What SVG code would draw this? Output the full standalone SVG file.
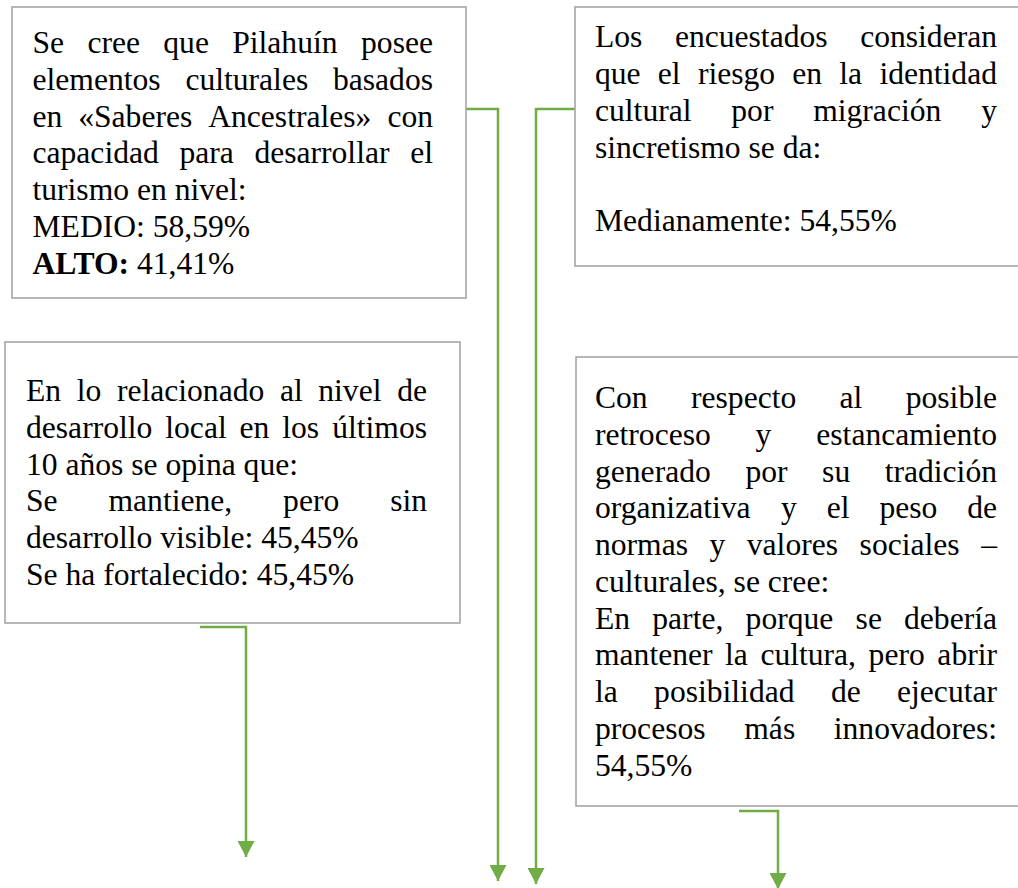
<svg xmlns="http://www.w3.org/2000/svg" width="1018" height="888" viewBox="0 0 1018 888" font-family="'Liberation Serif', 'Times New Roman', Tinos, serif">
<style>
.box{fill:#fff;stroke:#a6a6a6;stroke-width:1.6}
text{font-family:'Liberation Serif','Times New Roman',Tinos,serif;font-size:31.6px;fill:#000}
.e{text-anchor:end}
.b{font-weight:bold}
.c{fill:none;stroke:#70ad47;stroke-width:2.5}
</style>
<defs>
<marker id="ah" markerUnits="userSpaceOnUse" markerWidth="16" markerHeight="17" refX="15" refY="8" orient="auto" viewBox="0 0 15 16">
<path d="M0,0 L15,8 L0,16 Z" fill="#70ad47"/>
</marker>
</defs>
<g id="connectors">
<path class="c" d="M461,109 H498 V881" marker-end="url(#ah)"/>
<path class="c" d="M575,109 H536 V884" marker-end="url(#ah)"/>
<path class="c" d="M200,627 H246 V857" marker-end="url(#ah)"/>
<path class="c" d="M739,811 H778 V889" marker-end="url(#ah)"/>
</g>
<g id="box1" font-family="Liberation Serif">
<rect class="box" x="12" y="7" width="454" height="291"/>
<text x="32.5" y="53">Se</text><text x="87.4" y="53">cree</text><text x="163.3" y="53">que</text><text x="232.2" y="53">Pilahuín</text><text class="e" x="433" y="53">posee</text>
<text x="32.5" y="89.8">elementos</text><text x="185.4" y="89.8">culturales</text><text class="e" x="433" y="89.8">basados</text>
<text x="32.5" y="126.6">en</text><text x="78.2" y="126.6">«Saberes</text><text x="208.2" y="126.6">Ancestrales»</text><text class="e" x="433" y="126.6">con</text>
<text x="32.5" y="163.4">capacidad</text><text x="179.4" y="163.4">para</text><text x="254.4" y="163.4">desarrollar</text><text class="e" x="433" y="163.4">el</text>
<text x="32.5" y="200.2">turismo en nivel:</text>
<text x="32.5" y="237">MEDIO: 58,59%</text>
<text x="32.5" y="273.8"><tspan class="b">ALTO:</tspan> 41,41%</text>
</g>
<g id="box2" font-family="Liberation Serif">
<rect class="box" x="575" y="7" width="460" height="259"/>
<text x="595" y="47">Los</text><text x="674.9" y="47">encuestados</text><text class="e" x="997" y="47">consideran</text>
<text x="595" y="84">que</text><text x="657.8" y="84">el</text><text x="697.9" y="84">riesgo</text><text x="792.3" y="84">en</text><text x="839.3" y="84">la</text><text class="e" x="997" y="84">identidad</text>
<text x="595" y="121">cultural</text><text x="731.3" y="121">por</text><text x="813.2" y="121">migración</text><text class="e" x="997" y="121">y</text>
<text x="595" y="158">sincretismo se da:</text>
<text x="595" y="231">Medianamente: 54,55%</text>
</g>
<g id="box3" font-family="Liberation Serif">
<rect class="box" x="5" y="342" width="455" height="281"/>
<text x="26" y="401">En</text><text x="76.7" y="401">lo</text><text x="116.9" y="401">relacionado</text><text x="279.9" y="401">al</text><text x="318.3" y="401">nivel</text><text class="e" x="427" y="401">de</text>
<text x="26" y="437.8">desarrollo</text><text x="165.3" y="437.8">local</text><text x="239.6" y="437.8">en</text><text x="282.3" y="437.8">los</text><text class="e" x="427" y="437.8">últimos</text>
<text x="26" y="474.6">10 años se opina que:</text>
<text x="26" y="511.4">Se</text><text x="108.5" y="511.4">mantiene,</text><text x="283.1" y="511.4">pero</text><text class="e" x="427" y="511.4">sin</text>
<text x="26" y="548.2">desarrollo visible: 45,45%</text>
<text x="26" y="585">Se ha fortalecido: 45,45%</text>
</g>
<g id="box4" font-family="Liberation Serif">
<rect class="box" x="576" y="357" width="460" height="449"/>
<text x="595" y="408">Con</text><text x="691" y="408">respecto</text><text x="839.6" y="408">al</text><text class="e" x="997" y="408">posible</text>
<text x="595" y="444.75">retroceso</text><text x="755.6" y="444.75">y</text><text class="e" x="997" y="444.75">estancamiento</text>
<text x="595" y="481.5">generado</text><text x="745.4" y="481.5">por</text><text x="822.1" y="481.5">su</text><text class="e" x="997" y="481.5">tradición</text>
<text x="595" y="518.25">organizativa</text><text x="781.1" y="518.25">y</text><text x="826.8" y="518.25">el</text><text x="879.5" y="518.25">peso</text><text class="e" x="997" y="518.25">de</text>
<text x="595" y="555">normas</text><text x="709.5" y="555">y</text><text x="746.8" y="555">valores</text><text x="859.6" y="555">sociales</text><text class="e" x="997" y="555">–</text>
<text x="595" y="591.75">culturales, se cree:</text>
<text x="595" y="628.5">En</text><text x="652.3" y="628.5">parte,</text><text x="745.6" y="628.5">porque</text><text x="855.6" y="628.5">se</text><text class="e" x="997" y="628.5">debería</text>
<text x="595" y="665.25">mantener</text><text x="725.1" y="665.25">la</text><text x="760.4" y="665.25">cultura,</text><text x="868.6" y="665.25">pero</text><text class="e" x="997" y="665.25">abrir</text>
<text x="595" y="702">la</text><text x="654.1" y="702">posibilidad</text><text x="830.9" y="702">de</text><text class="e" x="997" y="702">ejecutar</text>
<text x="595" y="738.75">procesos</text><text x="744.3" y="738.75">más</text><text class="e" x="997" y="738.75">innovadores:</text>
<text x="595" y="775.5">54,55%</text>
</g>
</svg>
